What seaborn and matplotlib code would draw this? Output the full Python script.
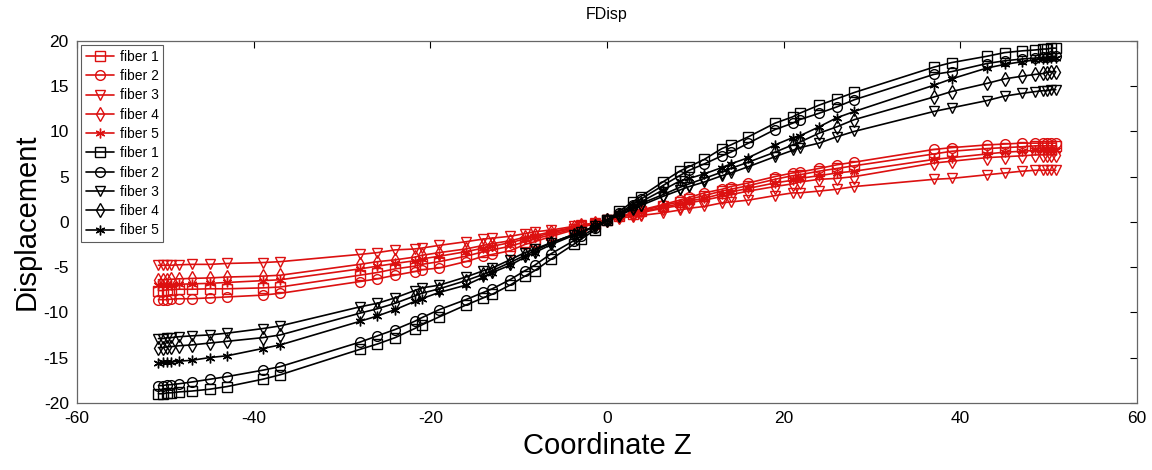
import matplotlib
matplotlib.use("Agg")
import matplotlib.pyplot as plt
import seaborn as sns
import pandas as pd

# ---- data -------------------------------------------------------------
z = [-50.8, -50.3, -49.8, -49.4, -48.5, -47.0, -45.0, -43.0, -39.0, -37.0,
     -28.0, -26.0, -24.0, -21.8, -21.0, -19.0, -16.0, -14.0, -13.0, -11.0,
     -9.3, -8.2, -6.3, -3.8, -2.9, -1.4, 0.0, 1.4, 2.9, 3.8,
     6.3, 8.2, 9.3, 11.0, 13.0, 14.0, 16.0, 19.0, 21.0, 21.8,
     24.0, 26.0, 28.0, 37.0, 39.0, 43.0, 45.0, 47.0, 48.5, 49.4,
     49.8, 50.3, 50.8]

red_f1 = [-7.6, -7.6, -7.5, -7.5, -7.45, -7.45, -7.4, -7.4, -7.3, -7.2,
          -5.9, -5.6, -5.2, -4.9, -4.7, -4.4, -3.8, -3.3, -3.1, -2.7,
          -2.2, -1.9, -1.4, -0.8, -0.5, -0.2, 0.2, 0.6, 0.9, 1.2,
          1.8, 2.2, 2.5, 2.9, 3.4, 3.6, 4.0, 4.7, 5.1, 5.2,
          5.6, 5.9, 6.2, 7.5, 7.8, 8.1, 8.2, 8.3, 8.4, 8.4,
          8.4, 8.4, 8.4]
red_f2 = [-8.6, -8.6, -8.6, -8.55, -8.5, -8.5, -8.4, -8.3, -8.1, -7.9,
          -6.6, -6.3, -5.9, -5.5, -5.3, -5.1, -4.4, -3.8, -3.6, -3.2,
          -2.5, -2.2, -1.6, -0.9, -0.6, -0.2, 0.2, 0.6, 1.0, 1.3,
          1.9, 2.4, 2.7, 3.2, 3.6, 3.9, 4.3, 5.0, 5.4, 5.5,
          5.9, 6.3, 6.6, 8.0, 8.2, 8.5, 8.6, 8.7, 8.7, 8.7,
          8.7, 8.7, 8.7]
red_f3 = [-4.8, -4.8, -4.8, -4.8, -4.75, -4.7, -4.7, -4.6, -4.5, -4.4,
          -3.6, -3.4, -3.1, -3.0, -2.9, -2.6, -2.2, -1.9, -1.8, -1.6,
          -1.3, -1.1, -0.9, -0.5, -0.4, -0.1, 0.2, 0.4, 0.6, 0.7,
          1.0, 1.3, 1.5, 1.7, 2.1, 2.2, 2.4, 2.9, 3.2, 3.2,
          3.4, 3.6, 3.9, 4.7, 4.8, 5.2, 5.4, 5.6, 5.7, 5.7,
          5.7, 5.7, 5.7]
red_f4 = [-6.4, -6.4, -6.4, -6.35, -6.3, -6.25, -6.2, -6.1, -6.0, -5.9,
          -4.7, -4.4, -4.2, -3.9, -3.7, -3.4, -3.0, -2.6, -2.4, -2.1,
          -1.7, -1.5, -1.1, -0.6, -0.4, -0.1, 0.2, 0.5, 0.8, 1.0,
          1.5, 1.8, 2.1, 2.4, 2.8, 3.0, 3.4, 3.9, 4.2, 4.4,
          4.7, 4.8, 5.0, 6.5, 6.7, 7.1, 7.2, 7.3, 7.4, 7.4,
          7.4, 7.4, 7.4]
red_f5 = [-7.0, -7.0, -7.0, -6.95, -6.9, -6.85, -6.8, -6.7, -6.5, -6.4,
          -5.2, -4.9, -4.6, -4.3, -4.1, -3.8, -3.3, -2.9, -2.7, -2.3,
          -1.9, -1.7, -1.2, -0.7, -0.5, -0.2, 0.2, 0.5, 0.9, 1.1,
          1.6, 2.0, 2.3, 2.6, 3.1, 3.3, 3.7, 4.3, 4.6, 4.8,
          5.1, 5.4, 5.6, 6.9, 7.1, 7.5, 7.7, 7.8, 7.9, 7.9,
          7.9, 7.9, 7.9]

blk_f1 = [-19.0, -19.0, -18.9, -18.9, -18.8, -18.7, -18.5, -18.2, -17.4, -16.9,
          -14.1, -13.5, -12.8, -11.8, -11.4, -10.5, -9.2, -8.4, -8.0, -7.0,
          -6.0, -5.4, -4.1, -2.5, -1.9, -0.9, 0.2, 1.2, 2.2, 2.8,
          4.4, 5.6, 6.1, 6.9, 8.1, 8.5, 9.4, 10.9, 11.6, 12.0,
          12.9, 13.6, 14.3, 17.1, 17.6, 18.3, 18.7, 18.9, 19.0, 19.1,
          19.1, 19.2, 19.2]
blk_f2 = [-18.1, -18.1, -18.0, -18.0, -17.9, -17.7, -17.4, -17.1, -16.4, -16.0,
          -13.3, -12.6, -11.9, -11.0, -10.6, -9.7, -8.6, -7.8, -7.4, -6.4,
          -5.4, -4.8, -3.5, -2.1, -1.6, -0.7, 0.2, 1.0, 1.9, 2.5,
          4.0, 5.1, 5.7, 6.4, 7.3, 7.7, 8.7, 10.2, 10.9, 11.3,
          12.0, 12.7, 13.5, 16.3, 16.6, 17.5, 17.8, 18.0, 18.1, 18.2,
          18.2, 18.3, 18.3]
blk_f3 = [-12.9, -12.9, -12.8, -12.8, -12.7, -12.6, -12.5, -12.3, -11.8, -11.5,
          -9.4, -9.0, -8.4, -7.6, -7.3, -7.0, -6.1, -5.4, -5.1, -4.2,
          -3.4, -3.0, -2.3, -1.4, -1.1, -0.5, 0.2, 0.7, 1.4, 1.8,
          2.8, 3.5, 3.9, 4.4, 5.1, 5.4, 6.1, 7.2, 7.9, 8.2,
          8.7, 9.4, 10.0, 12.2, 12.6, 13.4, 13.9, 14.2, 14.4, 14.5,
          14.5, 14.6, 14.6]
blk_f4 = [-13.9, -13.9, -13.8, -13.8, -13.7, -13.6, -13.4, -13.2, -12.8, -12.5,
          -10.1, -9.6, -9.0, -8.2, -7.9, -7.4, -6.5, -5.8, -5.4, -4.5,
          -3.7, -3.2, -2.3, -1.4, -1.1, -0.5, 0.2, 0.8, 1.5, 2.0,
          3.0, 3.8, 4.2, 4.8, 5.5, 5.9, 6.6, 7.7, 8.5, 8.8,
          9.8, 10.5, 11.3, 13.8, 14.4, 15.3, 15.8, 16.1, 16.3, 16.4,
          16.5, 16.6, 16.6]
blk_f5 = [-15.6, -15.5, -15.5, -15.5, -15.4, -15.3, -15.0, -14.8, -14.0, -13.6,
          -11.0, -10.4, -9.7, -8.8, -8.5, -7.8, -7.0, -6.1, -5.6, -4.8,
          -3.9, -3.4, -2.5, -1.5, -1.2, -0.5, 0.2, 0.9, 1.7, 2.2,
          3.5, 4.5, 4.8, 5.3, 6.0, 6.4, 7.1, 8.5, 9.3, 9.5,
          10.5, 11.5, 12.2, 15.1, 15.8, 17.0, 17.4, 17.7, 17.9, 18.0,
          18.0, 18.1, 18.1]

labels = ["fiber 1", "fiber 2", "fiber 3", "fiber 4", "fiber 5"]
red_series = [red_f1, red_f2, red_f3, red_f4, red_f5]
blk_series = [blk_f1, blk_f2, blk_f3, blk_f4, blk_f5]

x_ticks = [-60, -40, -20, 0, 20, 40, 60]
y_ticks = [-20, -15, -10, -5, 0, 5, 10, 15, 20]

# ---- style ------------------------------------------------------------
sns.set_theme(style="white")
plt.rcParams["font.family"] = ["Liberation Sans", "DejaVu Sans"]
plt.rcParams["axes.unicode_minus"] = False
plt.rcParams["text.color"] = "black"
plt.rcParams["axes.labelcolor"] = "black"

markers = ["s", "o", "v", "d", (6, 2, 0)]
RED = "#dc1010"
BLACK = "#000000"

fig = plt.figure(figsize=(11.52, 4.70), dpi=100)
ax = fig.add_axes([0.067, 0.143, 0.920, 0.770])

for color, series in [(RED, red_series), (BLACK, blk_series)]:
    for lab, mk, ys in zip(labels, markers, series):
        df = pd.DataFrame({"z": z, "d": ys})
        sns.lineplot(data=df, x="z", y="d", ax=ax, color=color, label=lab,
                     marker=mk, markersize=7, markerfacecolor="none",
                     markeredgecolor=color, markeredgewidth=1.0,
                     linewidth=1.2, sort=False, estimator=None)

ax.set_xlim(-60, 60)
ax.set_ylim(-20, 20)
ax.set_xticks(x_ticks)
ax.set_yticks(y_ticks)
ax.tick_params(direction="in", length=5, width=0.8, top=True, right=True,
               labelsize=12.5, colors="#000000", pad=6)
for s in ax.spines.values():
    s.set_color("#666666")
    s.set_linewidth(0.9)

ax.set_title("FDisp", fontsize=11.5, pad=16, color="black")
ax.set_xlabel("Coordinate Z", fontsize=21, labelpad=4, color="black")
ax.set_ylabel("Displacement", fontsize=21, labelpad=2, color="black")

leg = ax.legend(loc="upper left", fontsize=10, handlelength=2.0,
                handletextpad=0.4, labelspacing=0.38, borderaxespad=0.3,
                borderpad=0.35, frameon=True, fancybox=False)
leg.get_frame().set_edgecolor("#333333")
leg.get_frame().set_linewidth(0.8)
for t in leg.get_texts():
    t.set_color("black")

fig.savefig("out.png", dpi=100)
